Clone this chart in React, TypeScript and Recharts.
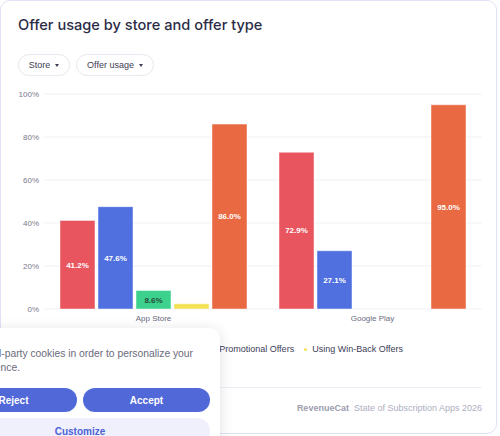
import React from "react";
import { BarChart, Bar, XAxis, YAxis, CartesianGrid, LabelList } from "recharts";

const categories = ["App Store", "Google Play"];
const freeTrials = [41.2, 72.9];
const introOffers = [47.6, 27.1];
const promoOffers = [8.6, null];
const winBackOffers = [2.4, null];
const anyOffer = [86.0, 95.0];
const yTicks = [0, 20, 40, 60, 80, 100];

const seriesNames = [
  "Using Free Trials",
  "Using Intro Offers",
  "Using Promotional Offers",
  "Using Win-Back Offers",
  "Using Any Offer",
];
const seriesKeys = ["s0", "s1", "s2", "s3", "s4"];
const seriesColors = ["#e8555f", "#5070e0", "#3cd18c", "#f3e254", "#e96a42"];
const labelColors = ["#ffffff", "#ffffff", "#264d3c", "#333333", "#ffffff"];

const data = categories.map((c, i) => ({
  name: c,
  s0: freeTrials[i],
  s1: introOffers[i],
  s2: promoOffers[i],
  s3: winBackOffers[i],
  s4: anyOffer[i],
}));

const TITLE_FONT = "Inter, 'Noto Sans', sans-serif";
const FONT = "'Liberation Sans', Arial, Helvetica, sans-serif";

const caret = (
  <span style={{ display: "inline-block", width: 0, height: 0, borderLeft: "2.5px solid transparent", borderRight: "2.5px solid transparent", borderTop: "3px solid #3d3d55", marginLeft: 5 }} />
);

export default function App() {
  return (
    <div style={{ position: "absolute", left: 0, top: 0, width: 500, height: 436, overflow: "hidden", background: "#ffffff", fontFamily: FONT }}>
      <div style={{ position: "absolute", left: 0, top: 0, width: 495, height: 432, border: "1px solid #dfe2f6", borderRadius: 10, background: "#fff" }} />
      <div style={{ position: "absolute", left: 18, top: 16, fontFamily: TITLE_FONT, fontSize: 14.6, lineHeight: "18px", fontWeight: 500, color: "#2b2b46", whiteSpace: "nowrap" }}>
        Offer usage by store and offer type
      </div>
      <div style={{ position: "absolute", left: 18, top: 54, width: 50, height: 20, border: "1px solid #e8e8f0", borderRadius: 11, fontSize: 9, color: "#3d3d55", display: "flex", alignItems: "center", justifyContent: "center" }}>
        Store{caret}
      </div>
      <div style={{ position: "absolute", left: 76, top: 54, width: 76, height: 20, border: "1px solid #e8e8f0", borderRadius: 11, fontSize: 9, color: "#3d3d55", display: "flex", alignItems: "center", justifyContent: "center" }}>
        Offer usage{caret}
      </div>

      <div style={{ position: "absolute", left: 0, top: 0 }}>
        <BarChart
          width={500}
          height={436}
          data={data}
          margin={{ top: 94, right: 18, bottom: 97, left: 0 }}
          barCategoryGap={16}
          barGap={3}
        >
          <CartesianGrid vertical={false} stroke="#f1f1f5" />
          <XAxis
            dataKey="name"
            height={30}
            axisLine={false}
            tickLine={false}
            tickSize={6}
            tickMargin={0}
            tick={{ fontSize: 8, fill: "#6b6b7e", fontFamily: FONT }}
          />
          <YAxis
            width={44}
            domain={[0, 100]}
            ticks={yTicks}
            axisLine={false}
            tickLine={false}
            tickSize={0}
            tickMargin={5}
            tickFormatter={(v) => `${v}%`}
            tick={{ fontSize: 8, fill: "#7a7a8c", fontFamily: FONT }}
          />
          {seriesKeys.map((k, i) => (
            <Bar key={k} dataKey={k} name={seriesNames[i]} fill={seriesColors[i]} stroke="rgba(255,255,255,0.45)" strokeWidth={1} isAnimationActive={false}>
              <LabelList
                dataKey={k}
                position="center"
                formatter={(v: any) => (v == null || v < 5 ? "" : `${Number(v).toFixed(1)}%`)}
                style={{ fontSize: 8, fontWeight: 700, fill: labelColors[i], fontFamily: FONT }}
              />
            </Bar>
          ))}
        </BarChart>
      </div>

      {/* legend */}
      <div style={{ position: "absolute", right: 97, top: 343, height: 12, display: "flex", alignItems: "center", fontSize: 9, color: "#3d3d58", whiteSpace: "nowrap" }}>
        {seriesNames.slice(0, 4).map((n, i) => (
          <span key={n} style={{ display: "flex", alignItems: "center", marginLeft: i === 0 ? 0 : 10 }}>
            <span style={{ width: 3, height: 3, borderRadius: 2, background: seriesColors[i], marginRight: 5 }} />
            {n}
          </span>
        ))}
      </div>
      <div style={{ position: "absolute", left: 18, top: 364, height: 12, display: "flex", alignItems: "center", fontSize: 9, color: "#3d3d58", whiteSpace: "nowrap" }}>
        <span style={{ width: 3, height: 3, borderRadius: 2, background: seriesColors[4], marginRight: 5 }} />
        {seriesNames[4]}
      </div>

      {/* footer */}
      <div style={{ position: "absolute", left: 18, top: 387, width: 464, height: 1, background: "#eeeff6" }} />
      <div style={{ position: "absolute", right: 18, top: 402, height: 12, display: "flex", alignItems: "center", whiteSpace: "nowrap" }}>
        <span style={{ fontSize: 9, fontWeight: 700, color: "#9d9db0", marginRight: 5 }}>RevenueCat</span>
        <span style={{ fontSize: 9, color: "#aeaec0" }}>State of Subscription Apps 2026</span>
      </div>

      {/* cookie banner */}
      <div style={{ position: "absolute", left: -70, top: 328, width: 290, height: 130, background: "#fff", borderRadius: 10, boxShadow: "0 2px 14px rgba(40,40,80,0.14)" }} />
      <div style={{ position: "absolute", right: 307, top: 347, height: 14, lineHeight: "14px", fontSize: 10.3, color: "#6a6a7c", whiteSpace: "nowrap" }}>
        We use third-party cookies in order to personalize your
      </div>
      <div style={{ position: "absolute", right: 480, top: 361, height: 14, lineHeight: "14px", fontSize: 10.3, color: "#6a6a7c", whiteSpace: "nowrap" }}>
        experience.
      </div>
      <div style={{ position: "absolute", left: -50, top: 388, width: 127, height: 24, borderRadius: 12, background: "#5168d9", color: "#fff", fontSize: 10, fontWeight: 700, display: "flex", alignItems: "center", justifyContent: "center" }}>
        Reject
      </div>
      <div style={{ position: "absolute", left: 83, top: 388, width: 127, height: 24, borderRadius: 12, background: "#5168d9", color: "#fff", fontSize: 10, fontWeight: 700, display: "flex", alignItems: "center", justifyContent: "center" }}>
        Accept
      </div>
      <div style={{ position: "absolute", left: -50, top: 418, width: 260, height: 26, borderRadius: 13, background: "#eff0fb", color: "#4c62d6", fontSize: 10, fontWeight: 700, display: "flex", alignItems: "center", justifyContent: "center" }}>
        Customize
      </div>
    </div>
  );
}
